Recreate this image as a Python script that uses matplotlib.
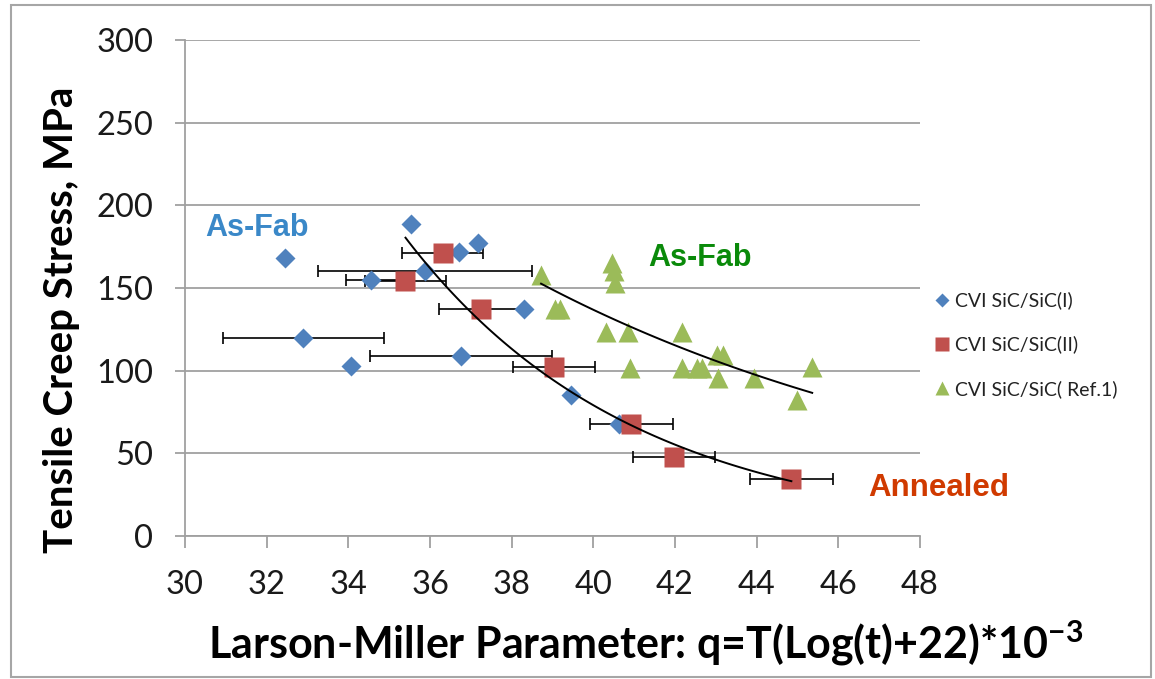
import numpy as np
import matplotlib
matplotlib.use("Agg")
import matplotlib.pyplot as plt
from matplotlib.patches import Rectangle

plt.rcParams['font.family'] = ['Lato', 'DejaVu Sans']
plt.rcParams['mathtext.fontset'] = 'custom'
plt.rcParams['mathtext.rm'] = 'Lato:bold'
plt.rcParams['mathtext.bf'] = 'Lato:bold'

# CVI SiC/SiC(I)
q1 = [32.45, 35.53, 37.17, 36.72, 35.88, 34.56, 38.29, 32.90, 34.07, 36.76, 39.46, 40.62]
s1 = [168, 189, 177, 172, 160, 155, 137, 120, 103, 109, 85, 68]
e1 = [0, 0, 0, 0, 2.63, 0.62, 0, 1.97, 0, 2.24, 0, 0]

# CVI SiC/SiC(II)
q2 = [36.31, 35.40, 37.25, 39.03, 40.93, 41.97, 44.85]
s2 = [171, 154, 137.5, 102, 68, 48, 34.5]
e2 = [1.0, 1.0, 1.02, 1.0, 1.02, 1.0, 1.01]

# CVI SiC/SiC( Ref.1)
q3 = [38.72, 40.45, 40.50, 40.54, 39.07, 39.19, 40.30, 40.84, 42.17, 40.89,
      42.17, 42.54, 42.66, 43.03, 43.17, 43.05, 43.93, 45.36, 45.00]
s3 = [158, 165, 160, 153, 137, 137, 123.6, 123.6, 123.6, 101.4,
      101.4, 101.4, 101.4, 109.5, 109.5, 95.4, 95.4, 102.4, 82.3]

labels = ['CVI SiC/SiC(I)', 'CVI SiC/SiC(II)', 'CVI SiC/SiC( Ref.1)']
xticks = np.arange(30, 49, 2)
yticks = np.arange(0, 301, 50)

blue = '#4F81BD'
red = '#C0504D'
green = '#9BBB59'

fig = plt.figure(figsize=(11.55, 6.79), dpi=100)
ax = fig.add_axes([185/1155, 1-536/679, 735/1155, 496/679])

# error bars (behind markers)
ax.errorbar(q1, s1, xerr=e1, fmt='none', ecolor='black', elinewidth=1.2, capsize=4.5, capthick=1.2, zorder=2)
ax.errorbar(q2, s2, xerr=e2, fmt='none', ecolor='black', elinewidth=1.2, capsize=4.5, capthick=1.2, zorder=2)

ax.plot(q1, s1, 'D', color=blue, ms=10.5, mec='none', label=labels[0], zorder=3)
ax.plot(q2, s2, 's', color=red, ms=14, mec='none', label=labels[1], zorder=3)
ax.plot(q3, s3, '^', color=green, ms=15, mec='none', label=labels[2], zorder=3)

# exponential trend lines
for qq, ss in [(q2, s2), (q3, s3)]:
    b, a = np.polyfit(qq, np.log(ss), 1)
    xx = np.linspace(min(qq), max(qq), 100)
    ax.plot(xx, np.exp(a + b*xx), color='black', lw=1.4, zorder=4)

ax.set_xlim(30, 48)
ax.set_ylim(0, 300)
ax.set_xticks(xticks)
ax.set_yticks(yticks)
ax.tick_params(axis='both', labelsize=23.5, colors='#A0A0A0', labelcolor='#1a1a1a', width=1.3)
ax.tick_params(axis='y', length=7, pad=16)
ax.tick_params(axis='x', length=8.5, pad=16)
ax.grid(axis='y', color='#A0A0A0', lw=1.3)
ax.set_axisbelow(True)
for sp in ['top', 'right']:
    ax.spines[sp].set_visible(False)
for sp in ['left', 'bottom']:
    ax.spines[sp].set_color('#A0A0A0')
    ax.spines[sp].set_linewidth(1.3)

ax.text(30.5, 186, 'As-Fab', color='#3A88C8', fontsize=22, fontweight='bold',
        family='Liberation Sans', va='center', ha='left')
ax.text(41.34, 168, 'As-Fab', color='#0A8A0A', fontsize=22, fontweight='bold',
        family='Liberation Sans', va='center', ha='left')
ax.text(46.73, 29, 'Annealed', color='#D03A00', fontsize=22.5, fontweight='bold',
        family='Liberation Sans', va='center', ha='left', clip_on=False)

fig.text(62/1155, 1-320/679, 'Tensile Creep Stress, MPa', rotation=90,
         fontsize=29, fontweight='bold', ha='center', va='center')
fig.text(646/1155, 1-658/679, r'Larson-Miller Parameter: q=T(Log(t)+22)*10$^{\mathbf{-3}}$',
         fontsize=31, fontweight='bold', ha='center', va='baseline')

fig.legend(loc='upper left', bbox_to_anchor=(918/1155, 1-274/679), frameon=False,
           fontsize=14, markerscale=0.7, handlelength=0.7, handletextpad=0.3,
           labelspacing=1.35, labelcolor='#222222')

fig.patches.append(Rectangle((11/1155, 2/679), 1140/1155, 672/679, transform=fig.transFigure,
                             fill=False, edgecolor='#A6A6A6', lw=1.5))

fig.savefig('out.png', dpi=100)
